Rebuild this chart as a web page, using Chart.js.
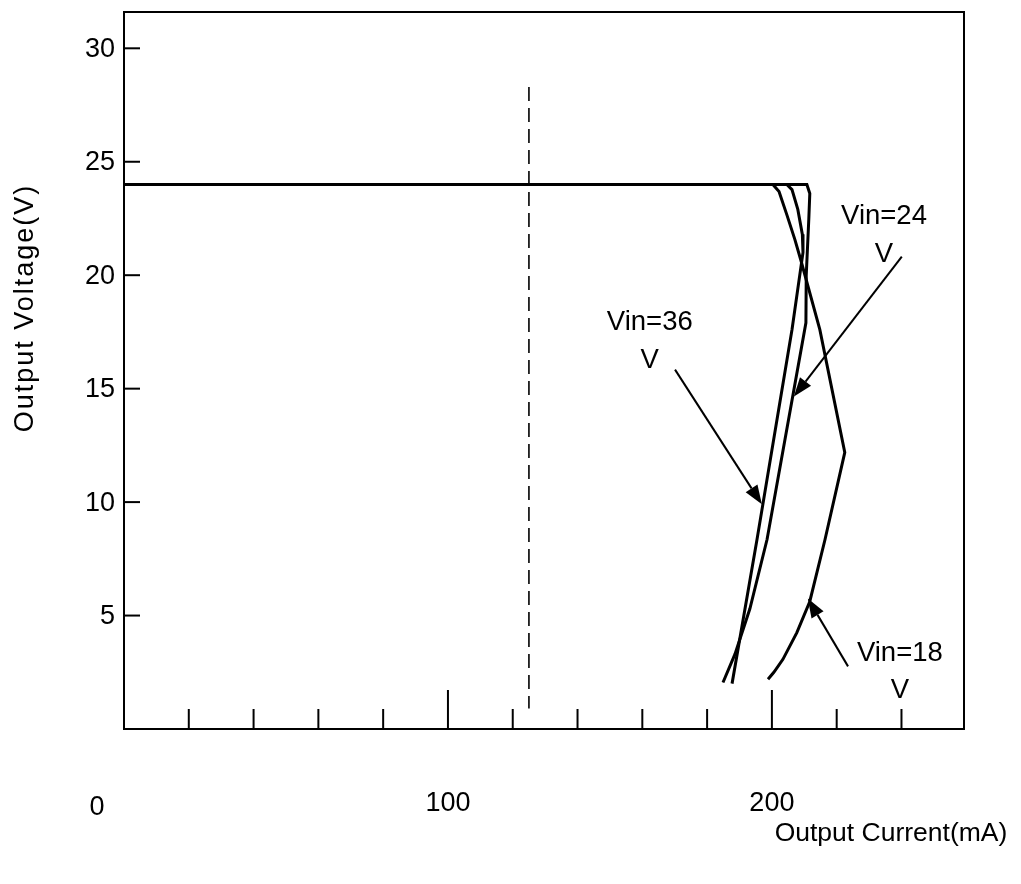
<!DOCTYPE html>
<html>
<head>
<meta charset="utf-8">
<script src="https://cdn.jsdelivr.net/npm/chart.js@4"></script>
<style>
  body { margin: 0; background: #fff; }
  #wrap { width: 1021px; height: 884px; }
</style>
</head>
<body>
<div id="wrap"><canvas id="curveChart"></canvas></div>
<script>
    // Output current (mA) / output voltage (V)
    const vin18Current = [0, 200.3, 202.2, 204.6, 207.1, 208.9, 214.8, 222.5, 216.4, 211.7, 207.7, 203.4, 200.6, 198.8];
    const vin18Voltage = [24, 24, 23.69, 22.67, 21.57, 20.68, 17.6, 12.19, 8.35, 5.62, 4.25, 3.07, 2.5, 2.19];

    const vin24Current = [0, 210.8, 211.7, 211.4, 210.6, 210.5, 198.5, 193.2, 188.6, 184.9];
    const vin24Voltage = [24, 24, 23.6, 22.5, 20, 17.9, 8.35, 5.3, 3.3, 2.05];

    const vin36Current = [0, 204.6, 206.2, 208.0, 209.4, 209.6, 206.2, 195.4, 187.7];
    const vin36Voltage = [24, 24, 23.77, 22.9, 21.8, 21.0, 17.6, 8.35, 2.0];

    const limitCurrent = [125, 125];
    const limitVoltage = [28.3, 0.9];

    const voltageTicks = [5, 10, 15, 20, 25, 30];
    const currentTicks = [20, 40, 60, 80, 100, 120, 140, 160, 180, 200, 220, 240];
    const currentMajor = [100, 200];
    const currentLabels = [0, 100, 200];

    // annotations: text, label centre, arrow start, arrow tip (data units)
    const notes = [
        { text: ["Vin=36", "V"], at: [162.3, 17.91, 16.24], from: [170.1, 15.84], to: [196.9, 9.9] },
        { text: ["Vin=24", "V"], at: [234.6, 22.58, 20.9], from: [240.1, 20.82], to: [206.8, 14.65] },
        { text: ["Vin=18", "V"], at: [239.5, 3.33, 1.7], from: [223.5, 2.76], to: [211.1, 5.75] }
    ];

    function pts(xs, ys) {
        return xs.map((x, i) => ({ x, y: ys[i] }));
    }

    const FONT = '"Liberation Sans", Arial, sans-serif';

    const decor = {
        id: 'decor',
        afterDatasetsDraw(chart) {
            const { ctx, chartArea: a, scales: { x, y } } = chart;
            ctx.save();
            ctx.strokeStyle = '#000';
            ctx.fillStyle = '#000';

            // frame
            ctx.lineWidth = 2;
            ctx.strokeRect(a.left, a.top, a.right - a.left, a.bottom - a.top);

            // y ticks, pointing inward
            ctx.lineWidth = 2;
            ctx.font = '27px ' + FONT;
            ctx.textAlign = 'right';
            ctx.textBaseline = 'middle';
            voltageTicks.forEach(v => {
                const py = y.getPixelForValue(v);
                ctx.beginPath();
                ctx.moveTo(a.left, py);
                ctx.lineTo(a.left + 16, py);
                ctx.stroke();
                ctx.fillText(String(v), a.left - 9, py + 1);
            });

            // x ticks, pointing inward
            currentTicks.forEach(v => {
                const px = x.getPixelForValue(v);
                const len = currentMajor.includes(v) ? 39 : 20;
                ctx.beginPath();
                ctx.moveTo(px, a.bottom);
                ctx.lineTo(px, a.bottom - len);
                ctx.stroke();
            });
            ctx.textAlign = 'center';
            currentLabels.forEach(v => {
                let px = x.getPixelForValue(v);
                if (v === 0) px -= 27;
                ctx.fillText(String(v), px, a.bottom + (v === 0 ? 79 : 75));
            });

            // axis titles
            ctx.font = '26.5px ' + FONT;
            ctx.textAlign = 'center';
            ctx.fillText('Output Current(mA)', 891, 834);
            ctx.save();
            ctx.translate(26, 308);
            ctx.rotate(-Math.PI / 2);
            ctx.font = '27px ' + FONT;
            ctx.letterSpacing = '2px';
            ctx.fillText('Output Voltage(V)', 0, 0);
            ctx.restore();

            // notes with arrows
            ctx.font = '27.5px ' + FONT;
            notes.forEach(n => {
                const cx = x.getPixelForValue(n.at[0]);
                ctx.fillText(n.text[0], cx, y.getPixelForValue(n.at[1]));
                ctx.fillText(n.text[1], cx, y.getPixelForValue(n.at[2]));

                const x0 = x.getPixelForValue(n.from[0]), y0 = y.getPixelForValue(n.from[1]);
                const x1 = x.getPixelForValue(n.to[0]), y1 = y.getPixelForValue(n.to[1]);
                const ang = Math.atan2(y1 - y0, x1 - x0);
                const hl = 19, hw = 7;
                ctx.lineWidth = 2;
                ctx.beginPath();
                ctx.moveTo(x0, y0);
                ctx.lineTo(x1 - Math.cos(ang) * hl, y1 - Math.sin(ang) * hl);
                ctx.stroke();
                ctx.beginPath();
                ctx.moveTo(x1, y1);
                ctx.lineTo(x1 - Math.cos(ang) * hl - Math.sin(ang) * hw, y1 - Math.sin(ang) * hl + Math.cos(ang) * hw);
                ctx.lineTo(x1 - Math.cos(ang) * hl + Math.sin(ang) * hw, y1 - Math.sin(ang) * hl - Math.cos(ang) * hw);
                ctx.closePath();
                ctx.fill();
            });
            ctx.restore();
        }
    };

    const curve = { borderColor: '#000', borderWidth: 3, pointRadius: 0, tension: 0, fill: false };

    new Chart(document.getElementById('curveChart'), {
        type: 'line',
        data: {
            datasets: [
                { ...curve, label: 'Vin=18V', data: pts(vin18Current, vin18Voltage) },
                { ...curve, label: 'Vin=24V', data: pts(vin24Current, vin24Voltage) },
                { ...curve, label: 'Vin=36V', data: pts(vin36Current, vin36Voltage) },
                { ...curve, label: 'limit', borderWidth: 1.6, borderDash: [14, 7], data: pts(limitCurrent, limitVoltage) }
            ]
        },
        options: {
            responsive: true,
            maintainAspectRatio: false,
            animation: false,
            layout: { padding: { top: 12, right: 57, left: 0, bottom: 0 } },
            plugins: { legend: { display: false }, tooltip: { enabled: false } },
            scales: {
                x: {
                    type: 'linear', min: 0, max: 259.3,
                    ticks: { display: false }, grid: { display: false }, border: { display: false },
                    afterFit: s => { s.height = 155; }
                },
                y: {
                    type: 'linear', min: 0, max: 31.6,
                    ticks: { display: false }, grid: { display: false }, border: { display: false },
                    afterFit: s => { s.width = 124; }
                }
            }
        },
        plugins: [decor]
    });
</script>
</body>
</html>
